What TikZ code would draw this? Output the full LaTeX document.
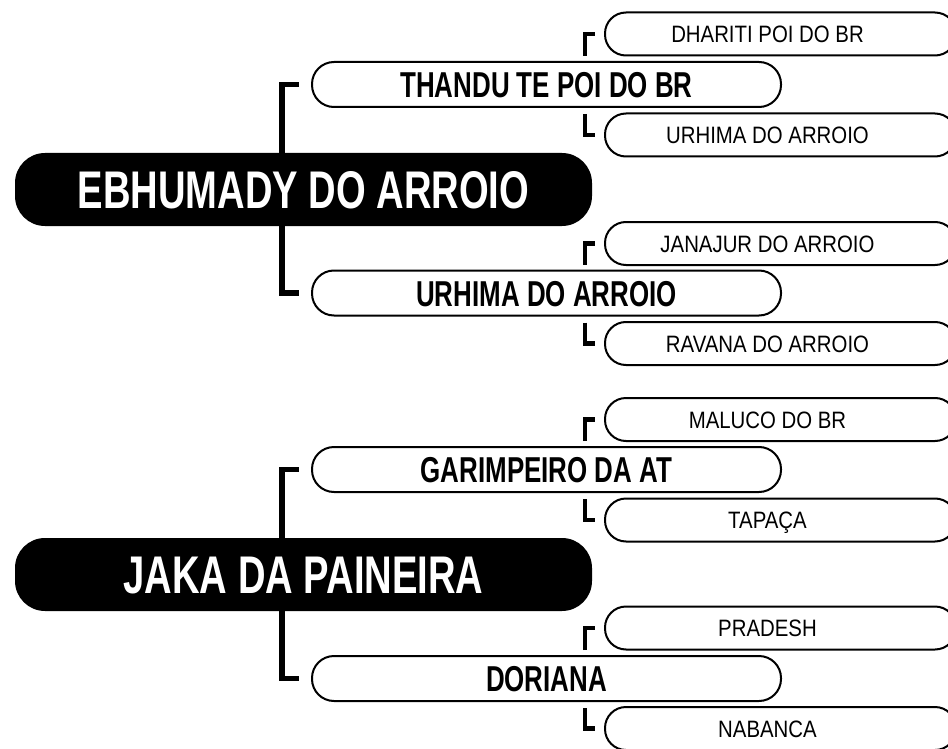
\documentclass[tikz,border=0pt]{standalone}
\usepackage{fontspec}
\usetikzlibrary{calc}
\newfontfamily\condsans[FakeStretch=0.72]{Liberation Sans}
\newfontfamily\leafsans[FakeStretch=0.86]{Liberation Sans}
\tikzset{
  rootbox/.style={fill=black, text=white, rounded corners=30pt, minimum width=577pt, minimum height=73pt, inner sep=0pt,
    font=\condsans\bfseries\fontsize{53}{53}\selectfont, text height=38pt, text depth=0pt},
  branchbox/.style={draw=black, fill=white, line width=2pt, rounded corners=22pt, minimum width=469pt, minimum height=45pt, inner sep=0pt,
    font=\condsans\bfseries\fontsize{36}{36}\selectfont, text height=26pt, text depth=0pt},
  leafbox/.style={draw=black, fill=white, line width=2pt, rounded corners=21pt, minimum width=351pt, minimum height=43pt, inner sep=0pt,
    font=\leafsans\fontsize{23.7}{23.7}\selectfont, text height=17pt, text depth=0pt},
  rootlink/.style={draw=black, line width=5.5pt},
  leaflink/.style={draw=black, line width=4.5pt},
}
\newcommand{\lt}[1]{#1\hspace*{26pt}}
\begin{document}
\begin{tikzpicture}[x=1pt,y=-1pt]
\useasboundingbox (0,0) rectangle (948,749);
% group 1
\node[rootbox] (r1) at (303.5,189.5) {EBHUMADY DO ARROIO};
\node[branchbox] (b1) at (546.5,84.5) {THANDU TE POI DO BR};
\node[branchbox] (b2) at (546.5,293) {URHIMA DO ARROIO};
\node[leafbox] (l1) at (780.5,34) {\lt{DHARITI POI DO BR}};
\node[leafbox] (l2) at (780.5,135) {\lt{URHIMA DO ARROIO}};
\node[leafbox] (l3) at (780.5,243.5) {\lt{JANAJUR DO ARROIO}};
\node[leafbox] (l4) at (780.5,343.5) {\lt{RAVANA DO ARROIO}};
% group 2
\node[rootbox] (r2) at (303.5,574.5) {JAKA DA PAINEIRA};
\node[branchbox] (b3) at (546.5,469.5) {GARIMPEIRO DA AT};
\node[branchbox] (b4) at (546.5,678.5) {DORIANA};
\node[leafbox] (l5) at (780.5,419.5) {\lt{MALUCO DO BR}};
\node[leafbox] (l6) at (780.5,520) {\lt{TAPAÇA}};
\node[leafbox] (l7) at (780.5,628) {\lt{PRADESH}};
\node[leafbox] (l8) at (780.5,728.5) {\lt{NABANCA}};
% root links
\draw[rootlink] ($(r1.north)+(-21.5,0)$) |- ($(b1.west)+(-12,0)$);
\draw[rootlink] ($(r1.south)+(-21.5,0)$) |- ($(b2.west)+(-12,0)$);
\draw[rootlink] ($(r2.north)+(-21.5,0)$) |- ($(b3.west)+(-12,0)$);
\draw[rootlink] ($(r2.south)+(-21.5,0)$) |- ($(b4.west)+(-12,0)$);
% leaf links
\draw[leaflink] ($(b1.north -| l1.west)+(-19,-5)$) |- ($(l1.west)+(-9,0)$);
\draw[leaflink] ($(b1.south -| l2.west)+(-19,6)$) |- ($(l2.west)+(-9,0)$);
\draw[leaflink] ($(b2.north -| l3.west)+(-19,-5)$) |- ($(l3.west)+(-9,0)$);
\draw[leaflink] ($(b2.south -| l4.west)+(-19,6)$) |- ($(l4.west)+(-9,0)$);
\draw[leaflink] ($(b3.north -| l5.west)+(-19,-5)$) |- ($(l5.west)+(-9,0)$);
\draw[leaflink] ($(b3.south -| l6.west)+(-19,6)$) |- ($(l6.west)+(-9,0)$);
\draw[leaflink] ($(b4.north -| l7.west)+(-19,-5)$) |- ($(l7.west)+(-9,0)$);
\draw[leaflink] ($(b4.south -| l8.west)+(-19,6)$) |- ($(l8.west)+(-9,0)$);
\end{tikzpicture}
\end{document}
